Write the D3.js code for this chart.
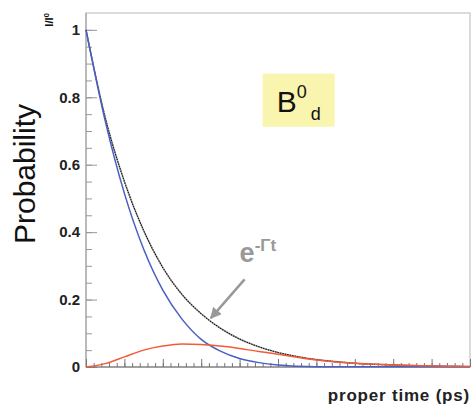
<!DOCTYPE html>
<html>
<head>
<meta charset="utf-8">
<script src="https://cdn.jsdelivr.net/npm/d3@7"></script>
<style>
  body { margin:0; background:#fff; }
  text { font-family:"Liberation Sans", Arial, sans-serif; }
</style>
</head>
<body>
<div id="plot"></div>
<script>
var times = [0,0.5,1,1.5,2,2.5,3,3.5,4,4.5,5,5.5,6,6.5,7,8,9,10];
var decay = [1,0.74,0.55,0.405,0.295,0.215,0.158,0.115,0.083,0.06,0.043,0.031,0.022,0.016,0.011,0.006,0.003,0.0015];
var unmixed = [1,0.73,0.515,0.35,0.228,0.142,0.082,0.047,0.025,0.013,0.006,0.0025,0.0008,0.0004,0.0006,0.001,0.0008,0.0005];
var mixed = [0,0.01,0.03,0.05,0.062,0.068,0.067,0.062,0.055,0.046,0.038,0.029,0.021,0.015,0.011,0.006,0.003,0.0015];
var yMajor = [0,0.2,0.4,0.6,0.8,1];

var margin = {t:13,r:5,b:40,l:86};
var W = 475, H = 407;
var width = W - margin.l - margin.r,
    height = H - margin.t - margin.b;

var svg = d3.select('#plot').append('svg')
    .attr('width',W).attr('height',H);

var plot = svg.append('g')
    .attr('transform','translate('+margin.l+','+margin.t+')');

var x = d3.scaleLinear().domain([0,10]).range([0,width]);
var y = d3.scaleLinear().domain([0,1.05]).range([height,0]);

// frame
plot.append('rect')
    .attr('width',width).attr('height',height)
    .style('fill','none').style('stroke','#cfcfcf').style('stroke-width',1.5);

// y axis: minor then major
plot.append('g')
    .call(d3.axisLeft(y).tickValues(d3.range(0,1.0001,0.05)).tickSize(-6).tickFormat(''))
    .call(function(g){ g.select('.domain').remove(); })
    .selectAll('line').style('stroke','#999');
var yAxis = plot.append('g')
    .call(d3.axisLeft(y).tickValues(yMajor).tickSize(-11).tickPadding(6)
        .tickFormat(function(d){ return d===0||d===1 ? d : d3.format('.1f')(d); }));
yAxis.select('.domain').style('stroke','#999').attr('d','M0,0V'+height);
yAxis.selectAll('line').style('stroke','#999');
yAxis.selectAll('text').style('font-size','15px').style('font-weight','bold').style('fill','#222');

// x axis
plot.append('g').attr('transform','translate(0,'+height+')')
    .call(d3.axisBottom(x).tickValues(d3.range(0,10.001,0.2)).tickSize(-4).tickFormat(''))
    .call(function(g){ g.select('.domain').remove(); })
    .selectAll('line').style('stroke','#777');
var xAxis = plot.append('g').attr('transform','translate(0,'+height+')')
    .call(d3.axisBottom(x).ticks(10).tickSize(-8).tickFormat(''));
xAxis.select('.domain').style('stroke','#666').attr('d','M0,0H'+width);
xAxis.selectAll('line').style('stroke','#777');

// curves
function line(vals){
  return d3.line()
    .x(function(d,i){ return x(times[i]); })
    .y(function(d){ return y(d); })
    .curve(d3.curveMonotoneX)(vals);
}
plot.append('path').attr('d',line(decay))
    .style('fill','none').style('stroke','#aaa').style('stroke-width',1.6);
plot.append('path').attr('d',line(decay))
    .style('fill','none').style('stroke','#111').style('stroke-width',1.1).style('stroke-dasharray','1.5,1');
plot.append('path').attr('d',line(unmixed))
    .style('fill','none').style('stroke','#4a5ec4').style('stroke-width',1.5);
plot.append('path').attr('d',line(mixed))
    .style('fill','none').style('stroke','#f25a38').style('stroke-width',1.5);

// B0d box
var bx = x(4.6), by = y(0.87);
plot.append('rect').attr('x',bx).attr('y',by).attr('width',72).attr('height',53)
    .style('fill','#f9f5ae');
var bt = plot.append('text').attr('x',bx+14).attr('y',by+38)
    .style('font-size','30px').style('fill','#111');
bt.append('tspan').text('B');
bt.append('tspan').attr('dy',-14).style('font-size','18px').text('0');
bt.append('tspan').attr('dx',4).attr('dy',22).style('font-size','18px').text('d');

// e^-Gamma t annotation
var et = plot.append('text').attr('x',x(4)).attr('y',y(0.31))
    .style('font-size','27px').style('font-weight','bold').style('fill','#999');
et.append('tspan').text('e');
et.append('tspan').attr('dy',-11).style('font-size','17px').text('-\u0393t');

svg.append('defs').append('marker').attr('id','ah')
    .attr('viewBox','0 0 10 10').attr('refX',9).attr('refY',5)
    .attr('markerWidth',4.5).attr('markerHeight',4.5).attr('orient','auto')
  .append('path').attr('d','M0,0L10,5L0,10z').style('fill','#999');
plot.append('line')
    .attr('x1',x(4.13)).attr('y1',y(0.26))
    .attr('x2',x(3.25)).attr('y2',y(0.145))
    .style('stroke','#999').style('stroke-width',2.5).attr('marker-end','url(#ah)');

// axis titles
svg.append('text')
    .attr('transform','translate(35,'+(margin.t+161)+') rotate(-90)')
    .attr('text-anchor','middle')
    .style('font-size','30px').style('fill','#111')
    .text('Probability');

var it = svg.append('text')
    .attr('transform','translate(53,13) rotate(-90)')
    .attr('text-anchor','end')
    .style('font-size','11px').style('font-weight','bold').style('fill','#111');
it.append('tspan').text('I/I');
it.append('tspan').attr('dy',-4).style('font-size','8px').text('0');

svg.append('text')
    .attr('x',margin.l+width).attr('y',401)
    .attr('text-anchor','end')
    .style('font-size','17px').style('font-weight','bold').style('fill','#222')
    .style('letter-spacing','0.8px')
    .text('proper time (ps)');
</script>
</body>
</html>
